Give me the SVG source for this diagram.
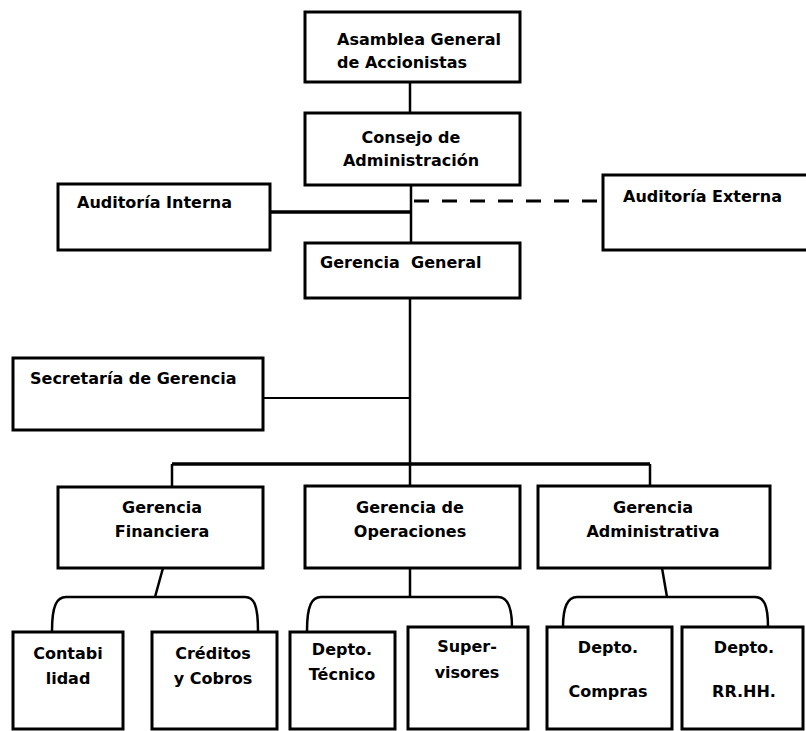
<svg xmlns="http://www.w3.org/2000/svg" width="806" height="731" viewBox="0 0 806 731">
<style>
  .box { fill: #ffffff; stroke: #000000; stroke-width: 3; }
  .t { font-family: "DejaVu Sans", "Liberation Sans", sans-serif; font-weight: bold; font-size: 16px; fill: #000000; }
  .c { text-anchor: middle; }
  .ln { fill: none; stroke: #000000; stroke-width: 2.5; }
  .thick { fill: none; stroke: #000000; stroke-width: 3.5; }
  .thin { fill: none; stroke: #000000; stroke-width: 2; }
  .dash { fill: none; stroke: #000000; stroke-width: 3; stroke-dasharray: 15 13; }
</style>
<rect width="806" height="731" fill="#ffffff"/>
<g id="connectors">
  <line class="ln" x1="410" y1="82" x2="410" y2="113"/>
  <line class="ln" x1="411" y1="185" x2="411" y2="243"/>
  <line class="thick" x1="270" y1="212" x2="412" y2="212"/>
  <line class="dash" x1="414" y1="201" x2="602" y2="201"/>
  <line class="ln" x1="410" y1="298" x2="410" y2="464"/>
  <line class="thin" x1="263" y1="398" x2="410" y2="398"/>
  <line class="thick" x1="172" y1="464" x2="650" y2="464"/>
  <line class="ln" x1="172" y1="464" x2="172" y2="487"/>
  <line class="ln" x1="410" y1="464" x2="410" y2="486"/>
  <line class="ln" x1="650" y1="464" x2="650" y2="486"/>
  <line class="ln" x1="163" y1="568" x2="155" y2="597"/>
  <path class="ln" d="M52 631 C52 605 57 597 66 597 L245 597 C254 597 258 605 258 631"/>
  <line class="ln" x1="410" y1="568" x2="410" y2="597"/>
  <path class="ln" d="M307 631 C307 605 312 597 321 597 L498 597 C507 597 512 605 512 627"/>
  <line class="ln" x1="662" y1="568" x2="667" y2="597"/>
  <path class="ln" d="M563 627 C563 605 568 597 577 597 L755 597 C764 597 768 605 768 627"/>
</g>
<g id="asamblea">
  <rect class="box" x="305" y="12" width="215" height="70"/>
  <text class="t" x="337" y="45">Asamblea General</text>
  <text class="t" x="337" y="68">de Accionistas</text>
</g>
<g id="consejo">
  <rect class="box" x="305" y="113" width="215" height="72"/>
  <text class="t c" x="411" y="143">Consejo de</text>
  <text class="t c" x="411" y="166">Administración</text>
</g>
<g id="auditoria-interna">
  <rect class="box" x="58" y="184" width="212" height="66"/>
  <text class="t" x="77" y="208">Auditoría Interna</text>
</g>
<g id="auditoria-externa">
  <rect class="box" x="603" y="175" width="210" height="75"/>
  <text class="t" x="623" y="202">Auditoría Externa</text>
</g>
<g id="gerencia-general">
  <rect class="box" x="305" y="243" width="215" height="55"/>
  <text class="t" x="320" y="268" xml:space="preserve">Gerencia  General</text>
</g>
<g id="secretaria">
  <rect class="box" x="13" y="358" width="250" height="72"/>
  <text class="t" x="30" y="384">Secretaría de Gerencia</text>
</g>
<g id="gerencia-financiera">
  <rect class="box" x="58" y="487" width="205" height="81"/>
  <text class="t c" x="162" y="513">Gerencia</text>
  <text class="t c" x="162" y="537">Financiera</text>
</g>
<g id="gerencia-operaciones">
  <rect class="box" x="305" y="486" width="215" height="82"/>
  <text class="t c" x="410" y="513">Gerencia de</text>
  <text class="t c" x="410" y="537">Operaciones</text>
</g>
<g id="gerencia-administrativa">
  <rect class="box" x="538" y="486" width="232" height="82"/>
  <text class="t c" x="653" y="513">Gerencia</text>
  <text class="t c" x="653" y="537">Administrativa</text>
</g>
<g id="contabilidad">
  <rect class="box" x="13" y="632" width="110" height="97"/>
  <text class="t c" x="68" y="659">Contabi</text>
  <text class="t c" x="68" y="684">lidad</text>
</g>
<g id="creditos">
  <rect class="box" x="152" y="632" width="125" height="97"/>
  <text class="t c" x="213" y="659">Créditos</text>
  <text class="t c" x="213" y="684">y Cobros</text>
</g>
<g id="depto-tecnico">
  <rect class="box" x="290" y="632" width="105" height="97"/>
  <text class="t c" x="342" y="655">Depto.</text>
  <text class="t c" x="342" y="680">Técnico</text>
</g>
<g id="supervisores">
  <rect class="box" x="408" y="627" width="120" height="102"/>
  <text class="t c" x="467" y="652">Super-</text>
  <text class="t c" x="467" y="678">visores</text>
</g>
<g id="depto-compras">
  <rect class="box" x="547" y="627" width="125" height="102"/>
  <text class="t c" x="608" y="653">Depto.</text>
  <text class="t c" x="608" y="697">Compras</text>
</g>
<g id="depto-rrhh">
  <rect class="box" x="682" y="627" width="121" height="102"/>
  <text class="t c" x="744" y="653">Depto.</text>
  <text class="t c" x="744" y="697">RR.HH.</text>
</g>
</svg>
